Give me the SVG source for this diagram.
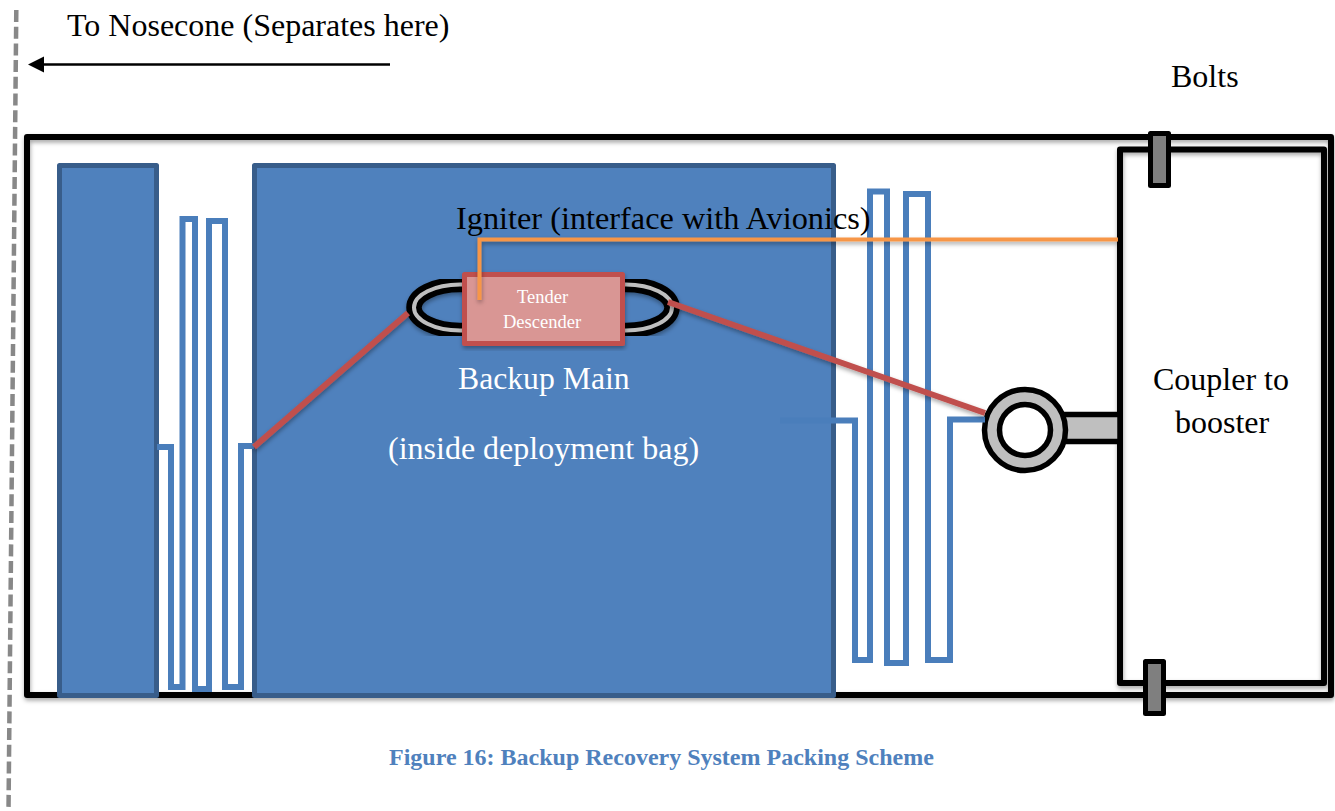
<svg xmlns="http://www.w3.org/2000/svg" width="1335" height="811" viewBox="0 0 1335 811">
<defs>
<filter id="sh" x="-10%" y="-10%" width="120%" height="120%"><feDropShadow dx="0.5" dy="2.5" stdDeviation="2" flood-color="#000" flood-opacity="0.35"/></filter>
<marker id="ah" markerUnits="userSpaceOnUse" markerWidth="17" markerHeight="17" refX="4" refY="8" orient="auto"><path d="M0 0L16 8L0 16Z" fill="#000"/></marker>
</defs>
<style>
text{font-family:"Liberation Serif","Times New Roman",serif;fill:#000}
.t{font-size:32px}
.w{fill:#fff}
.k{fill:none;stroke:#000;stroke-width:6;stroke-linejoin:round}
.bag{fill:#4f81bd;stroke:#385d8a;stroke-width:5;stroke-linejoin:round}
.bolt{fill:#7f7f7f;stroke:#000;stroke-width:5;stroke-linejoin:round}
.ser{fill:none;stroke:#4a7ebb;stroke-width:6;stroke-linejoin:miter}
.red{fill:none;stroke:#c0504d;stroke-width:6}
.lo{fill:none;stroke:#000;stroke-width:15.5}
.lg{fill:none;stroke:#bfbfbf;stroke-width:4}
.gr{fill:#bfbfbf;stroke:#000;stroke-width:5.5}
</style>
<rect width="1335" height="811" fill="#fff"/>
<g id="separation-line"><path d="M16.3 10L8.5 811" fill="none" stroke="#888" stroke-width="4.5" stroke-dasharray="12 4.7"/></g>
<g id="nosecone-label"><text class="t" x="67" y="36">To Nosecone (Separates here)</text></g>
<g id="bolts-label"><text class="t" x="1171" y="87">Bolts</text></g>
<g id="airframe"><rect class="k" x="27" y="137" width="1304" height="558" filter="url(#sh)"/></g>
<g id="drogue-bag"><rect class="bag" x="59.5" y="165.5" width="97" height="530"/></g>
<g id="main-bag"><rect class="bag" x="254.5" y="165.5" width="579" height="530"/>
<text class="t w" x="458" y="389" font-size="31.7" style="font-size:31.7px">Backup Main</text>
<text class="t w" x="388" y="459">(inside deployment bag)</text></g>
<g id="coupler"><rect class="k" x="1120" y="149.5" width="204" height="533.5" fill="#fff" filter="url(#sh)"/>
<text class="t" x="1153" y="390">Coupler to</text>
<text class="t" x="1175" y="433">booster</text></g>
<g id="bolt-top"><rect class="bolt" x="1150.5" y="133.5" width="18" height="52"/></g>
<g id="bolt-bottom"><rect class="bolt" x="1145.5" y="661.5" width="18" height="52"/></g>
<g id="eyebolt"><rect class="gr" x="1060" y="414.5" width="60" height="27"/>
<circle cx="1025" cy="430" r="40.5" class="gr"/>
<circle cx="1025" cy="430" r="25.5" fill="#fff" stroke="#000" stroke-width="5.5"/></g>
<g id="tender-descender"><g filter="url(#sh)"><path class="lo" d="M466 284.5H460A46 23 0 0 0 460 330.5H466"/><path class="lo" d="M620 284.5H626A46 23 0 0 1 626 330.5H620"/></g>
<path class="lg" d="M466 284.5H460A46 23 0 0 0 460 330.5H466"/><path class="lg" d="M620 284.5H626A46 23 0 0 1 626 330.5H620"/>
<rect x="464.5" y="274.5" width="158" height="69" fill="#d99694" stroke="#c0504d" stroke-width="5" stroke-linejoin="round" filter="url(#sh)"/>
<text class="w" x="517" y="303" font-size="18.5">Tender</text>
<text class="w" x="503" y="328" font-size="18.5">Descender</text></g>
<g id="connectors">
<path class="ser" d="M157 447H171V687H182.5V219H195V689H209V221H225V687H241V446H254"/>
<path class="ser" d="M780 420.5H855V660H870V191.5H887V663H906V194H928V660H950V419.5H985"/>
<path class="red" d="M254 447L408 313" filter="url(#sh)"/>
<path class="red" d="M668 302L985 413" filter="url(#sh)"/>
<path d="M1118 239.5H479.5V300" fill="none" stroke="#f79646" stroke-width="4" filter="url(#sh)"/>
<path d="M390 64.5H40" fill="none" stroke="#000" stroke-width="2.5" marker-end="url(#ah)"/>
</g>
<g id="igniter-label"><text x="456" y="229" style="font-size:32.3px">Igniter (interface with Avionics)</text></g>
<g id="caption"><text x="389" y="765" font-size="24" font-weight="bold" style="fill:#4f81bd">Figure 16: Backup Recovery System Packing Scheme</text></g>
</svg>
